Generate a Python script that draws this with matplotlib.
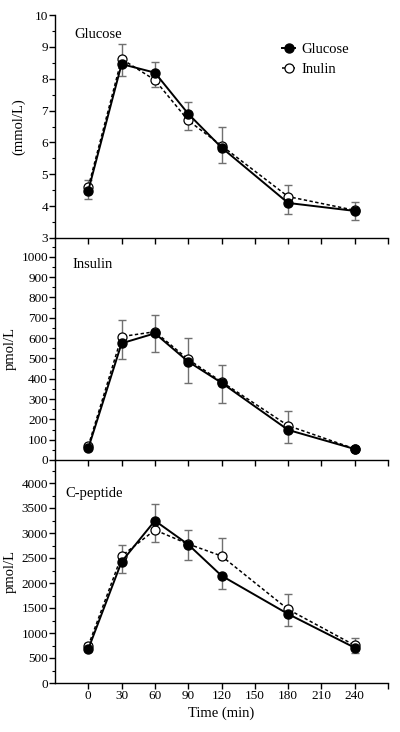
import matplotlib
matplotlib.use("Agg")
import matplotlib.pyplot as plt
import numpy as np
from matplotlib.ticker import MultipleLocator

plt.rcParams['font.family'] = ['Liberation Serif', 'DejaVu Serif']

time = [0, 30, 60, 90, 120, 180, 240]

# Glucose panel (mmol/L)
glu_glucose = [4.49, 8.46, 8.19, 6.90, 5.84, 4.10, 3.85]
glu_inulin = [4.60, 8.62, 7.96, 6.69, 5.90, 4.30, 3.87]
glu_glucose_err = [0.27, 0.36, 0.35, 0.36, 0.49, 0.35, 0.30]
glu_inulin_err = [0.23, 0.47, 0.21, 0.29, 0.58, 0.37, 0.25]

# Insulin panel (pmol/L)
ins_glucose = [58, 574, 623, 484, 380, 148, 54]
ins_inulin = [69, 607, 631, 495, 385, 169, 55]
ins_glucose_err = [5, 79, 93, 104, 100, 66, 5]
ins_inulin_err = [5, 83, 84, 105, 80, 71, 5]

# C-peptide panel (pmol/L)
cp_glucose = [680, 2426, 3246, 2770, 2146, 1380, 706]
cp_inulin = [746, 2540, 3060, 2780, 2540, 1473, 753]
cp_glucose_err = [30, 233, 327, 310, 273, 233, 113]
cp_inulin_err = [54, 220, 247, 280, 353, 300, 140]

panels = [
    dict(name="Glucose", ylabel="(mmol/L)", g=glu_glucose, i=glu_inulin,
         ge=glu_glucose_err, ie=glu_inulin_err, ylim=(3, 10), minor=0.5,
         ticks=np.arange(3, 10.01, 1), name_px=(74, 34), ylab_x=25),
    dict(name="Insulin", ylabel="pmol/L", g=ins_glucose, i=ins_inulin,
         ge=ins_glucose_err, ie=ins_inulin_err, ylim=(0, 1092), minor=50,
         ticks=np.arange(0, 1001, 100), name_px=(72, 265), ylab_x=17),
    dict(name="C-peptide", ylabel="pmol/L", g=cp_glucose, i=cp_inulin,
         ge=cp_glucose_err, ie=cp_inulin_err, ylim=(0, 4460), minor=250,
         ticks=np.arange(0, 4001, 500), name_px=(65, 493), ylab_x=17),
]

W, H = 400, 732
fig = plt.figure(figsize=(W / 100, H / 100), dpi=100)

# pixel boxes (top, bottom)
boxes = [(15, 238), (238, 460), (460, 683)]
left_px, right_px = 55, 388

for k, (p, (top, bot)) in enumerate(zip(panels, boxes)):
    ax = fig.add_axes([left_px / W, 1 - bot / H, (right_px - left_px) / W, (bot - top) / H])
    t = np.array(time)
    g = np.array(p["g"]); i = np.array(p["i"])
    ge = np.array(p["ge"]); ie = np.array(p["ie"])
    g_up = g >= i
    # one-sided error bars: higher mean gets upper bar, lower mean gets lower bar
    g_err = [np.where(g_up, 0, ge), np.where(g_up, ge, 0)]
    i_err = [np.where(g_up, ie, 0), np.where(g_up, 0, ie)]
    ax.errorbar(t, g, yerr=g_err, fmt='none', ecolor='#707070', elinewidth=1.0,
                capsize=3, capthick=1.0, zorder=2)
    ax.errorbar(t, i, yerr=i_err, fmt='none', ecolor='#707070', elinewidth=1.0,
                capsize=3, capthick=1.0, zorder=2)
    ax.plot(t, i, linestyle=(0, (2.2, 1.6)), color='black', lw=1.1, marker='o',
            markersize=6.5, markerfacecolor='white', markeredgecolor='black',
            markeredgewidth=0.9, zorder=3, label='Inulin')
    ax.plot(t, g, linestyle='-', color='black', lw=1.4, marker='o',
            markersize=6.5, markerfacecolor='black', markeredgecolor='black',
            zorder=4, label='Glucose')

    ax.set_xlim(-30, 270)
    ax.set_ylim(*p["ylim"])
    ax.set_yticks(p["ticks"])
    ax.yaxis.set_minor_locator(MultipleLocator(p["minor"]))
    ax.set_xticks(np.arange(0, 271, 30))
    for s in ['top', 'right']:
        ax.spines[s].set_visible(False)
    for s in ['left', 'bottom']:
        ax.spines[s].set_linewidth(1.0)
    ax.tick_params(axis='both', which='major', direction='out', length=4, width=1.0,
                   labelsize=9.5, pad=1)
    ax.tick_params(axis='y', which='minor', direction='out', length=2.5, width=0.8)
    ax.set_yticklabels([f"{v:g}" for v in p["ticks"]])
    if k < 2:
        ax.tick_params(axis='x', labelbottom=False)
    else:
        ax.set_xticklabels([str(v) if v <= 240 else "" for v in range(0, 271, 30)])
        ax.set_xlabel("Time (min)", fontsize=10.5, labelpad=3)
    ax.set_ylabel(p["ylabel"], fontsize=10.5)
    ax.yaxis.set_label_coords((p["ylab_x"] - left_px) / (right_px - left_px), 0.5)
    ax.patch.set_alpha(0)
    fig.text(p["name_px"][0] / W, 1 - p["name_px"][1] / H, p["name"],
             fontsize=10.5, ha='left', va='center')
    if k == 0:
        h, l = ax.get_legend_handles_labels()
        ax.legend(h[::-1], l[::-1], loc='upper right', bbox_to_anchor=(0.90, 0.90),
                  frameon=False, fontsize=10.5, handlelength=0.9, handletextpad=0.4,
                  labelspacing=0.45, borderaxespad=0)

fig.savefig("out.png", dpi=100)
